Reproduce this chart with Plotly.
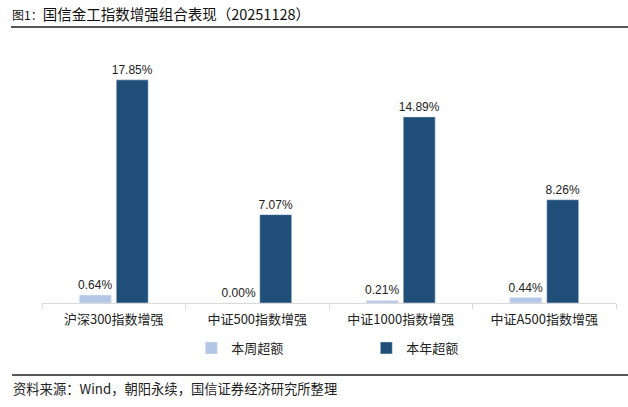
import plotly.graph_objects as go

categories = ["沪深300指数增强", "中证500指数增强", "中证1000指数增强", "中证A500指数增强"]
weekly_excess = [0.64, 0.00, 0.21, 0.44]
annual_excess = [17.85, 7.07, 14.89, 8.26]
series_names = ["本周超额", "本年超额"]

FONT = "Noto Sans CJK SC, Arial, sans-serif"
NUMFONT = "Liberation Sans, Arial, sans-serif"

fig = go.Figure()
fig.add_trace(go.Bar(
    x=categories, y=weekly_excess, name=series_names[0],
    marker_color="#b4c7e7",
    text=[f"{v:.2f}%" for v in weekly_excess], textposition="outside",
    constraintext="none",
    textfont=dict(size=12, color="#222222", family=NUMFONT), cliponaxis=False,
))
fig.add_trace(go.Bar(
    x=categories, y=annual_excess, name=series_names[1],
    marker_color="#1f4e79",
    text=[f"{v:.2f}%" for v in annual_excess], textposition="outside",
    constraintext="none",
    textfont=dict(size=12, color="#222222", family=NUMFONT), cliponaxis=False,
))

fig.update_layout(
    width=628, height=407,
    margin=dict(l=42, r=12, t=53, b=104),
    paper_bgcolor="white", plot_bgcolor="white",
    font=dict(family=FONT, size=12, color="#222222"),
    barmode="group", bargap=0.485, bargroupgap=0.135,
    showlegend=True,
    legend=dict(orientation="h", x=0.565, xanchor="center", y=-0.12, yanchor="top",
                entrywidth=130, entrywidthmode="pixels",
                font=dict(size=13, color="#222222"), bgcolor="rgba(0,0,0,0)"),
    xaxis=dict(showline=True, linecolor="#d9d9d9", linewidth=1, automargin=False,
               ticks="outside", tickson="boundaries", ticklen=5, tickcolor="#d9d9d9",
               ticklabelstandoff=4,
               tickfont=dict(size=13, color="#222222"), showgrid=False),
    yaxis=dict(range=[0, 20], visible=False, showgrid=False, zeroline=False),
)

# title
fig.add_annotation(xref="paper", yref="paper", x=-32/574, y=1 + (53 - 13) / 250,
                   xanchor="left", yanchor="middle", showarrow=False,
                   text="<span style='font-size:12px'>图1：</span>国信金工指数增强组合表现（20251128）",
                   font=dict(size=14.5, color="#111111", family=FONT))
# source
fig.add_annotation(xref="paper", yref="paper", x=-31/574, y=-(388 - 303) / 250,
                   xanchor="left", yanchor="middle", showarrow=False,
                   text="资料来源：Wind，朝阳永续，国信证券经济研究所整理",
                   font=dict(size=13.3, color="#222222", family=FONT))
# rule lines
fig.add_shape(type="line", xref="paper", yref="paper",
              x0=-31/574, x1=(628 - 42) / 574, y0=1 + (53 - 27) / 250, y1=1 + (53 - 27) / 250,
              line=dict(color="#555555", width=2))
fig.add_shape(type="line", xref="paper", yref="paper",
              x0=-30/574, x1=(628 - 42) / 574, y0=-(375 - 303) / 250, y1=-(375 - 303) / 250,
              line=dict(color="#222222", width=1.5))

fig.write_html("out.html", config={"displayModeBar": False},
               post_script="document.body.style.margin='0';")
